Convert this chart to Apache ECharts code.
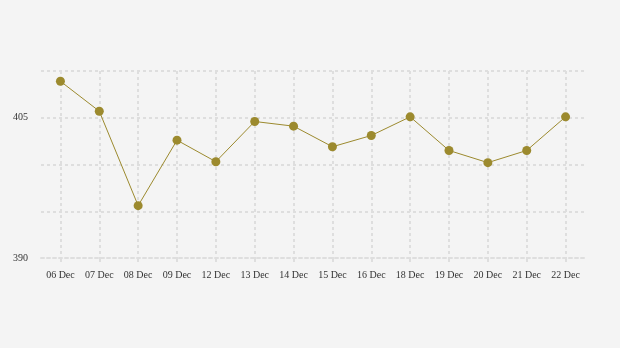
<!DOCTYPE html>
<html><head><meta charset="utf-8">
<script src="https://cdn.jsdelivr.net/npm/echarts@6/dist/echarts.min.js"></script>
<style>html,body{margin:0;padding:0;background:#f4f4f4}#c{width:620px;height:348px}</style>
</head><body><div id="c"></div>
<script>
var categories = ['06 Dec','07 Dec','08 Dec','09 Dec','12 Dec','13 Dec','14 Dec','15 Dec','16 Dec','18 Dec','19 Dec','20 Dec','21 Dec','22 Dec'];
var values = [408.9,405.7,395.6,402.6,400.3,404.6,404.1,401.9,403.1,405.1,401.5,400.2,401.5,405.1];
var yLabels = [390,405];
var chart = echarts.init(document.getElementById('c'));
var gridLine = {show:true, lineStyle:{color:'#dedede', width:2, type:[3,3]}};
chart.setOption({
  backgroundColor:'#f4f4f4',
  animation:false,
  grid:{left:41,right:35,top:71,bottom:90},
  xAxis:{type:'category', data:categories, boundaryGap:true,
    axisLine:{show:true, lineStyle:{color:'#dedede', width:2, type:[3,3]}},
    axisTick:{show:true, alignWithLabel:true, length:4, lineStyle:{color:'#dedede', width:2}},
    splitLine:{show:true, alignWithLabel:true, lineStyle:{color:'#dedede', width:2, type:[3,3]}},
    axisLabel:{color:'#333', fontFamily:'Liberation Serif', fontSize:10, margin:12, interval:0}
  },
  yAxis:{type:'value', min:390, max:410, interval:5,
    axisLine:{show:false}, axisTick:{show:false},
    splitLine:gridLine,
    axisLabel:{color:'#333', fontFamily:'Liberation Serif', fontSize:10, margin:13,
      formatter:function(v){return yLabels.indexOf(v)>=0 ? String(v) : '';}}
  },
  series:[{type:'line', data:values, symbol:'circle', symbolSize:9,
    itemStyle:{color:'#9c8a2e'}, lineStyle:{color:'#9c8a2e', width:1}}]
});
</script></body></html>
